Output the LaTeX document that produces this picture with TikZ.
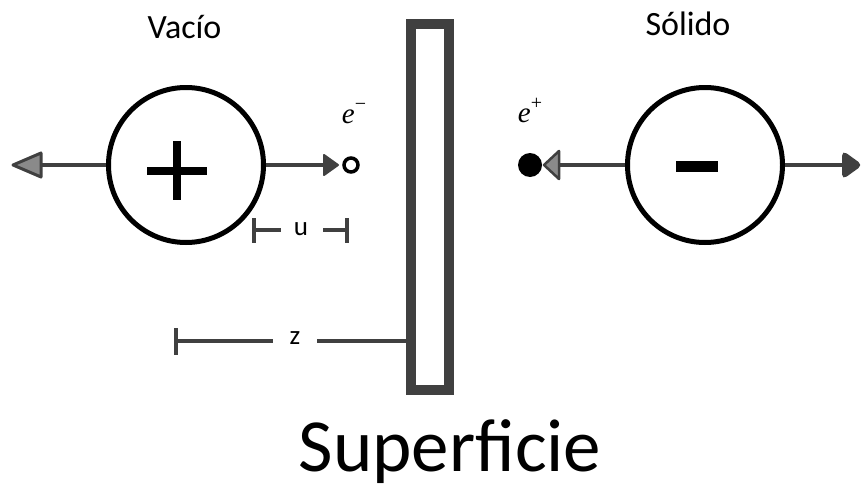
\documentclass[tikz,border=0pt]{standalone}
\usepackage{fontspec}
\setmainfont{Carlito}
\newfontfamily\elfont{Liberation Serif}
\definecolor{ln}{HTML}{404040}
\definecolor{tipgray}{HTML}{8A8A8A}
\newcommand{\partlbl}[1]{{\elfont\itshape e}\raisebox{0.42em}{\fontsize{20}{22}\selectfont\elfont #1}}
\begin{document}
\begin{tikzpicture}[x=1pt,y=-1pt,
  circ/.style={circle,draw=black,line width=5pt,minimum size=155pt,inner sep=0pt},
  surf/.style={draw=ln,line width=10pt,minimum width=38pt,minimum height=366pt,inner sep=0pt},
  arrline/.style={draw=ln,line width=4pt},
  dimline/.style={draw=ln,line width=4.5pt},
  lbl/.style={anchor=base,inner sep=0pt,text=black},
  dimlbl/.style={inner sep=0pt,font=\fontsize{27}{30}\selectfont},
  plbl/.style={inner sep=0pt,anchor=base,font=\fontsize{29}{32}\selectfont},
]
\useasboundingbox (0,0) rectangle (862,490);

% surface
\node[surf] (sup) at (430,206.5) {};

% circles
\node[circ] (vac) at (186,165) {};
\node[circ] (sol) at (705,165) {};

% plus and minus signs
\draw[line width=8pt] (147,171) -- (207,171);
\draw[line width=8pt] (177,141) -- (177,200);
\draw[line width=11pt] (676,166) -- (718,166);

% left arrow
\coordinate (ltip) at (13,165);
\coordinate (lbase) at (42,165);
\draw[arrline] (vac.west) -- (lbase);
\draw[draw=ln,fill=tipgray,line width=3pt,line join=round] (ltip) -- (41,153) -- (41,177) -- cycle;

% electron arrow
\coordinate (em) at (326,165);
\draw[arrline] (vac.east) -- (em);
\draw[draw=ln,fill=ln,line width=2pt,line join=round] (324,155) -- (338,165) -- (324,175) -- cycle;
\node[circle,draw=black,fill=white,line width=3.5pt,minimum size=14pt,inner sep=0pt] (eo) at (351,165) {};

% positron arrow
\node[circle,fill=black,minimum size=24pt,inner sep=0pt] (ep) at (530,165) {};
\coordinate (pb) at (559,165);
\draw[arrline] (sol.west) -- (pb);
\draw[draw=ln,fill=tipgray,line width=2.5pt,line join=round] (544,165) -- (559,151) -- (559,179) -- cycle;

% right arrow
\coordinate (rb) at (846,165);
\draw[arrline] (sol.east) -- (rb);
\draw[fill=ln,draw=ln,line width=2pt,rounded corners=4pt] (843,152) -- (861,165) -- (843,178) -- cycle;

% labels
\node[lbl,font=\fontsize{34}{40}\selectfont] (tvac) at (184.5,38) {Vacío};
\node[lbl,font=\fontsize{34}{40}\selectfont] (tsol) at (688,35) {Sólido};
\node[lbl,font=\fontsize{75}{86}\selectfont] (tsup) at (450,471) {Superficie};
\node[plbl] (elab) at (354,123) {\partlbl{−}};
\node[plbl] (plab) at (530,122) {\partlbl{+}};

% u dimension
\node[dimlbl] (ulab) at (301,229) {u};
\coordinate (u1) at (254,230);
\coordinate (u2) at (347,230);
\draw[dimline] ([yshift=-12.5pt]u1) -- ([yshift=12.5pt]u1);
\draw[dimline] ([yshift=-12.5pt]u2) -- ([yshift=12.5pt]u2);
\draw[dimline] (u1) -- (281,230);
\draw[dimline] (323,230) -- (u2);

% z dimension
\node[dimlbl] (zlab) at (295,338) {z};
\coordinate (z1) at (176,341);
\draw[dimline] ([yshift=-13.5pt]z1) -- ([yshift=13.5pt]z1);
\draw[dimline] (z1) -- (273,341);
\draw[dimline] (317,341) -- (sup.west |- z1);
\end{tikzpicture}
\end{document}
